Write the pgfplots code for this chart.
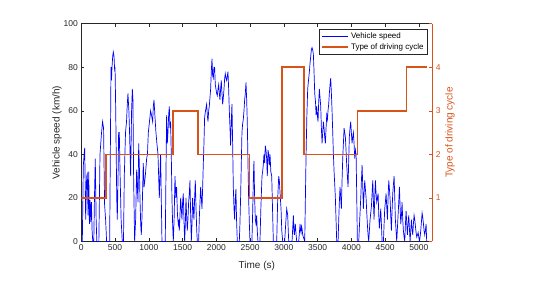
\documentclass[border=0pt]{standalone}
\usepackage{pgfplots}
\pgfplotsset{compat=1.18}
\usepackage{fontspec}
\setmainfont{Liberation Sans}
\definecolor{mblue}{rgb}{0,0,1}
\definecolor{morange}{rgb}{0.85,0.325,0.098}
\definecolor{mgray}{rgb}{0.15,0.15,0.15}
\begin{document}
\begin{tikzpicture}
\useasboundingbox (0pt,0pt) rectangle (540pt,290pt);
\begin{axis}[
  at={(81.3pt,48.6pt)}, anchor=south west,
  scale only axis, width=351pt, height=217.7pt,
  xmin=0, xmax=5200, ymin=0, ymax=100,
  xtick={0,500,...,5000}, ytick={0,20,...,100},
  axis y line*=left, axis x line*=box,
  tick align=inside, major tick length=3pt,
  axis line style={mgray, line width=0.5pt},
  every tick/.style={mgray, line width=0.5pt},
  tick label style={font=\fontsize{8.5}{10}\selectfont, text=mgray},
  /pgf/number format/assume math mode=true,
  scaled x ticks=false,
  xticklabel style={/pgf/number format/1000 sep={}},
  xlabel={Time (s)}, ylabel={Vehicle speed (km/h)},
  label style={font=\fontsize{10}{12}\selectfont, text=mgray},
  xlabel style={yshift=-3pt},
  ylabel style={yshift=-5pt},
]
\addplot[draw=mblue, line width=0.7pt] coordinates {
(0,0)(15,0)(30,35)(50,43)(65,10)(80,30)(89,31)(100,12)(110,32)(120,8)(130,19)(140,9)(150,18)(160,5)(170,0)(185,0)(195,20)(207,38)(220,10)(230,0)(260,0)(277,40)(300,50)(315,55)(330,52)(345,17)(360,10)(375,0)(420,0)(430,40)(440,80)(447,74)(455,80)(465,85)(474,87)(485,85)(495,78)(500,80)(510,60)(525,20)(533,10)(545,30)(553,50)(563,50)(575,30)(590,10)(607,0)(625,0)(637,30)(655,50)(670,55)(680,62)(691,68)(705,60)(715,50)(731,30)(745,60)(756,70)(765,65)(775,30)(790,0)(805,10)(820,33)(830,25)(840,18)(850,45)(860,35)(869,20)(880,8)(889,3)(900,12)(918,36)(930,25)(948,30)(958,34)(968,38)(980,40)(993,50)(1010,55)(1027,60)(1040,58)(1057,55)(1067,62)(1077,65)(1090,58)(1106,50)(1120,45)(1136,40)(1146,30)(1156,20)(1165,30)(1175,40)(1185,20)(1195,0)(1244,0)(1254,30)(1264,58)(1274,45)(1284,50)(1294,58)(1304,62)(1313,52)(1323,55)(1333,40)(1343,20)(1353,8)(1363,0)(1375,10)(1388,30)(1400,20)(1412,25)(1425,12)(1437,8)(1445,10)(1452,5)(1462,12)(1472,20)(1482,15)(1491,10)(1501,18)(1511,22)(1521,10)(1531,0)(1541,8)(1551,20)(1560,12)(1570,5)(1580,10)(1590,18)(1600,22)(1610,28)(1620,12)(1630,0)(1640,8)(1649,20)(1659,15)(1669,10)(1679,20)(1689,28)(1700,15)(1710,5)(1719,0)(1738,0)(1750,12)(1768,25)(1778,20)(1788,15)(1798,25)(1807,35)(1817,45)(1827,57)(1840,60)(1857,63)(1867,58)(1877,55)(1887,60)(1896,62)(1906,66)(1916,70)(1926,78)(1936,84)(1946,76)(1956,75)(1965,80)(1975,80)(1985,72)(1995,70)(2005,68)(2015,67)(2025,70)(2035,72)(2045,68)(2054,65)(2064,70)(2074,74)(2084,68)(2094,63)(2104,66)(2114,70)(2124,75)(2133,77)(2143,75)(2153,74)(2163,76)(2173,78)(2183,70)(2193,60)(2203,52)(2212,44)(2222,55)(2232,63)(2242,45)(2252,25)(2262,15)(2272,10)(2282,20)(2291,24)(2300,10)(2311,0)(2341,0)(2350,8)(2360,20)(2370,35)(2380,50)(2390,54)(2400,56)(2410,60)(2420,65)(2430,68)(2440,73)(2450,65)(2459,55)(2470,35)(2479,20)(2490,8)(2499,0)(2528,0)(2540,15)(2550,30)(2558,37)(2568,20)(2578,10)(2588,8)(2598,12)(2607,5)(2617,0)(2647,0)(2660,15)(2677,30)(2686,32)(2696,35)(2706,40)(2716,36)(2726,44)(2736,42)(2746,38)(2756,30)(2766,42)(2776,40)(2786,35)(2796,40)(2808,32)(2821,30)(2833,15)(2845,0)(2895,0)(2910,20)(2925,30)(2934,28)(2945,22)(2959,15)(2970,5)(2984,0)(3013,0)(3028,8)(3043,15)(3058,12)(3066,5)(3073,0)(3122,0)(3132,6)(3142,12)(3150,5)(3157,3)(3164,6)(3171,8)(3180,4)(3191,0)(3221,0)(3231,4)(3241,8)(3248,5)(3255,4)(3262,7)(3270,6)(3280,3)(3290,2)(3300,1)(3310,0)(3320,20)(3330,40)(3342,58)(3354,70)(3366,74)(3379,78)(3389,82)(3399,85)(3408,88)(3418,89)(3428,88)(3438,86)(3448,78)(3458,68)(3470,64)(3478,58)(3488,62)(3497,58)(3507,55)(3517,64)(3527,70)(3537,66)(3547,62)(3557,52)(3567,45)(3576,50)(3586,55)(3596,52)(3606,48)(3616,45)(3626,52)(3636,58)(3646,56)(3655,60)(3665,63)(3675,68)(3685,72)(3695,75)(3705,68)(3715,60)(3725,50)(3735,40)(3745,32)(3755,26)(3764,20)(3774,10)(3784,0)(3804,0)(3814,10)(3823,18)(3833,25)(3843,20)(3853,15)(3863,28)(3873,38)(3883,45)(3893,52)(3903,50)(3912,48)(3922,42)(3932,35)(3942,30)(3952,25)(3962,38)(3971,48)(3981,52)(3991,55)(4001,50)(4011,45)(4021,48)(4031,50)(4041,45)(4051,38)(4061,42)(4071,40)(4081,20)(4090,0)(4110,0)(4125,10)(4140,20)(4150,28)(4160,35)(4170,25)(4179,15)(4189,22)(4199,28)(4209,24)(4219,20)(4228,14)(4238,8)(4248,3)(4258,0)(4268,5)(4278,10)(4288,13)(4298,16)(4308,22)(4318,28)(4328,18)(4337,10)(4347,20)(4357,28)(4367,22)(4377,18)(4387,20)(4397,22)(4407,12)(4416,6)(4426,10)(4436,15)(4446,8)(4456,0)(4476,0)(4486,8)(4495,15)(4505,18)(4515,22)(4525,16)(4535,10)(4545,20)(4555,28)(4565,24)(4574,20)(4584,12)(4594,5)(4604,14)(4614,22)(4624,26)(4634,30)(4644,20)(4653,10)(4663,5)(4673,0)(4683,6)(4693,12)(4703,18)(4713,25)(4723,16)(4733,8)(4743,12)(4752,18)(4762,10)(4772,5)(4782,2)(4792,0)(4802,8)(4812,14)(4822,8)(4831,3)(4841,8)(4851,12)(4861,6)(4871,0)(4881,5)(4891,10)(4900,6)(4910,3)(4920,8)(4930,12)(4940,10)(4950,7)(4960,4)(4970,2)(4980,3)(4990,4)(5000,2)(5009,0)(5019,2)(5029,5)(5039,9)(5049,13)(5059,11)(5069,8)(5078,5)(5088,3)(5098,5)(5108,8)(5117,0)
};
\end{axis}
\begin{axis}[
  at={(81.3pt,48.6pt)}, anchor=south west,
  scale only axis, width=351pt, height=217.7pt,
  xmin=0, xmax=5200, ymin=0, ymax=5,
  ytick={0,1,2,3,4,5}, yticklabels={,1,2,3,4,},
  axis y line*=right, axis x line=none,
  tick align=inside, major tick length=3pt,
  axis line style={morange, line width=0.5pt},
  every tick/.style={morange, line width=0.5pt},
  tick label style={font=\fontsize{8.5}{10}\selectfont, text=morange},
  /pgf/number format/assume math mode=true,
  ylabel={Type of driving cycle},
  ylabel style={font=\fontsize{10}{12}\selectfont, text=morange, yshift=2pt},
  legend style={at={(rel axis cs:0.987,0.9757)}, anchor=north east,
    font=\fontsize{8}{9.5}\selectfont, draw=mgray, fill=white,
    inner xsep=2pt, inner ysep=1.5pt, row sep=-0.5pt, legend cell align=left},
  legend image code/.code={\draw[#1] (0pt,0pt) -- (26pt,0pt);},
]
\addlegendimage{draw=mblue, line width=0.7pt}
\addlegendentry{Vehicle speed}
\addplot[draw=morange, line width=1.5pt, const plot] coordinates {
(0,1)(366,2)(1360,3)(1730,2)(2490,1)(2970,4)(3300,2)(4095,3)(4820,4)(5117,4)
};
\addlegendentry{Type of driving cycle}
\end{axis}
\end{tikzpicture}
\end{document}
